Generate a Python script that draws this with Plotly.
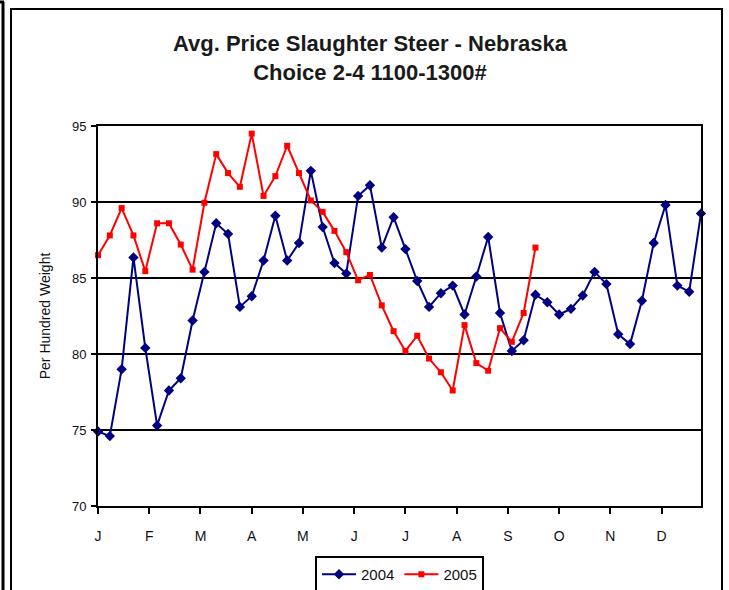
import plotly.graph_objects as go

# ---- data (weekly averages, $/cwt) ----
months = ["J", "F", "M", "A", "M", "J", "J", "A", "S", "O", "N", "D"]

price_2004 = [74.9, 74.6, 79.0, 86.35, 80.4, 75.3, 77.6, 78.4, 82.2, 85.4,
              88.6, 87.9, 83.1, 83.8, 86.15, 89.1, 86.15, 87.3, 92.05, 88.35,
              85.98, 85.3, 90.4, 91.1, 87.0, 89.0, 86.9, 84.8, 83.1, 84.0,
              84.5, 82.6, 85.1, 87.7, 82.7, 80.2, 80.9, 83.9, 83.4, 82.6,
              82.97, 83.85, 85.4, 84.6, 81.3, 80.65, 83.5, 87.3, 89.8, 84.5,
              84.1, 89.25]

price_2005 = [86.5, 87.8, 89.6, 87.8, 85.45, 88.6, 88.6, 87.2, 85.55, 89.95,
              93.15, 91.9, 91.0, 94.5, 90.4, 91.7, 93.7, 91.9, 90.1, 89.35,
              88.1, 86.7, 84.85, 85.2, 83.2, 81.5, 80.2, 81.2, 79.7, 78.8,
              77.6, 81.9, 79.4, 78.9, 81.7, 80.8, 82.7, 87.0]

weeks_2004 = list(range(len(price_2004)))
weeks_2005 = list(range(len(price_2005)))
weeks_per_month = 52 / 12

# ---- layout geometry (pixels) ----
W, H = 729, 590
L, R, T, B = 98, 701, 126, 506


def px(x):
    return (x - L) / (R - L)


def py(y):
    return (B - y) / (B - T)


fig = go.Figure()
fig.add_trace(go.Scatter(
    x=weeks_2004, y=price_2004, name="2004", mode="lines+markers",
    line=dict(color="#000080", width=2),
    marker=dict(symbol="diamond", size=8, color="#000080"),
    cliponaxis=False,
))
fig.add_trace(go.Scatter(
    x=weeks_2005, y=price_2005, name="2005", mode="lines+markers",
    line=dict(color="#FF0000", width=2),
    marker=dict(symbol="square", size=6, color="#FF0000"),
    cliponaxis=False,
))

font_family = "Liberation Sans, Arial, sans-serif"

shapes = [
    # outer frame
    dict(type="line", xref="paper", yref="paper", x0=px(3), x1=px(3), y0=py(2), y1=py(600),
         line=dict(color="black", width=3)),
    dict(type="line", xref="paper", yref="paper", x0=px(0), x1=px(4), y0=py(2), y1=py(2),
         line=dict(color="black", width=3)),
    dict(type="rect", xref="paper", yref="paper", x0=px(11), x1=px(722), y0=py(9), y1=py(600),
         line=dict(color="black", width=2)),
]

fig.update_layout(
    width=W, height=H, autosize=False,
    margin=dict(l=L, r=W - R, t=T, b=H - B, pad=0, autoexpand=False),
    paper_bgcolor="white", plot_bgcolor="white",
    title=dict(
        text="<b>Avg. Price Slaughter Steer - Nebraska<br>Choice 2-4 1100-1300#</b>",
        x=370 / W, xanchor="center", y=1 - 51 / H, yanchor="top",
        font=dict(family=font_family, size=22, color="#1a1a1a"),
    ),
    font=dict(family=font_family, size=13, color="#111"),
    xaxis=dict(
        range=[0, 51], tickmode="array",
        tickvals=[i * weeks_per_month for i in range(12)], ticktext=months,
        ticks="outside", ticklen=6, tickwidth=2, tickcolor="black",
        ticklabelstandoff=10,
        showgrid=False, zeroline=False,
        showline=True, linecolor="black", linewidth=2, mirror=True,
        tickfont=dict(size=14, color="#111"),
    ),
    yaxis=dict(
        range=[70, 95], tickvals=[70, 75, 80, 85, 90, 95],
        ticks="outside", ticklen=5, tickwidth=2, tickcolor="black",
        ticklabelstandoff=2,
        showgrid=True, gridcolor="black", gridwidth=2,
        zeroline=False,
        showline=True, linecolor="black", linewidth=2, mirror=True,
        title=dict(text="Per Hundred Weight", font=dict(size=14, color="#111"), standoff=18),
        tickfont=dict(size=13, color="#111"),
    ),
    legend=dict(
        orientation="h", x=0.5, xanchor="center",
        yref="container", y=1 - 556 / H, yanchor="top",
        bordercolor="black", borderwidth=2, bgcolor="white",
        font=dict(size=15, color="#111"), itemwidth=34,
    ),
    shapes=shapes,
)

fig.write_html("out.html", config={"displayModeBar": False},
               post_script="document.body.style.margin='0';")
